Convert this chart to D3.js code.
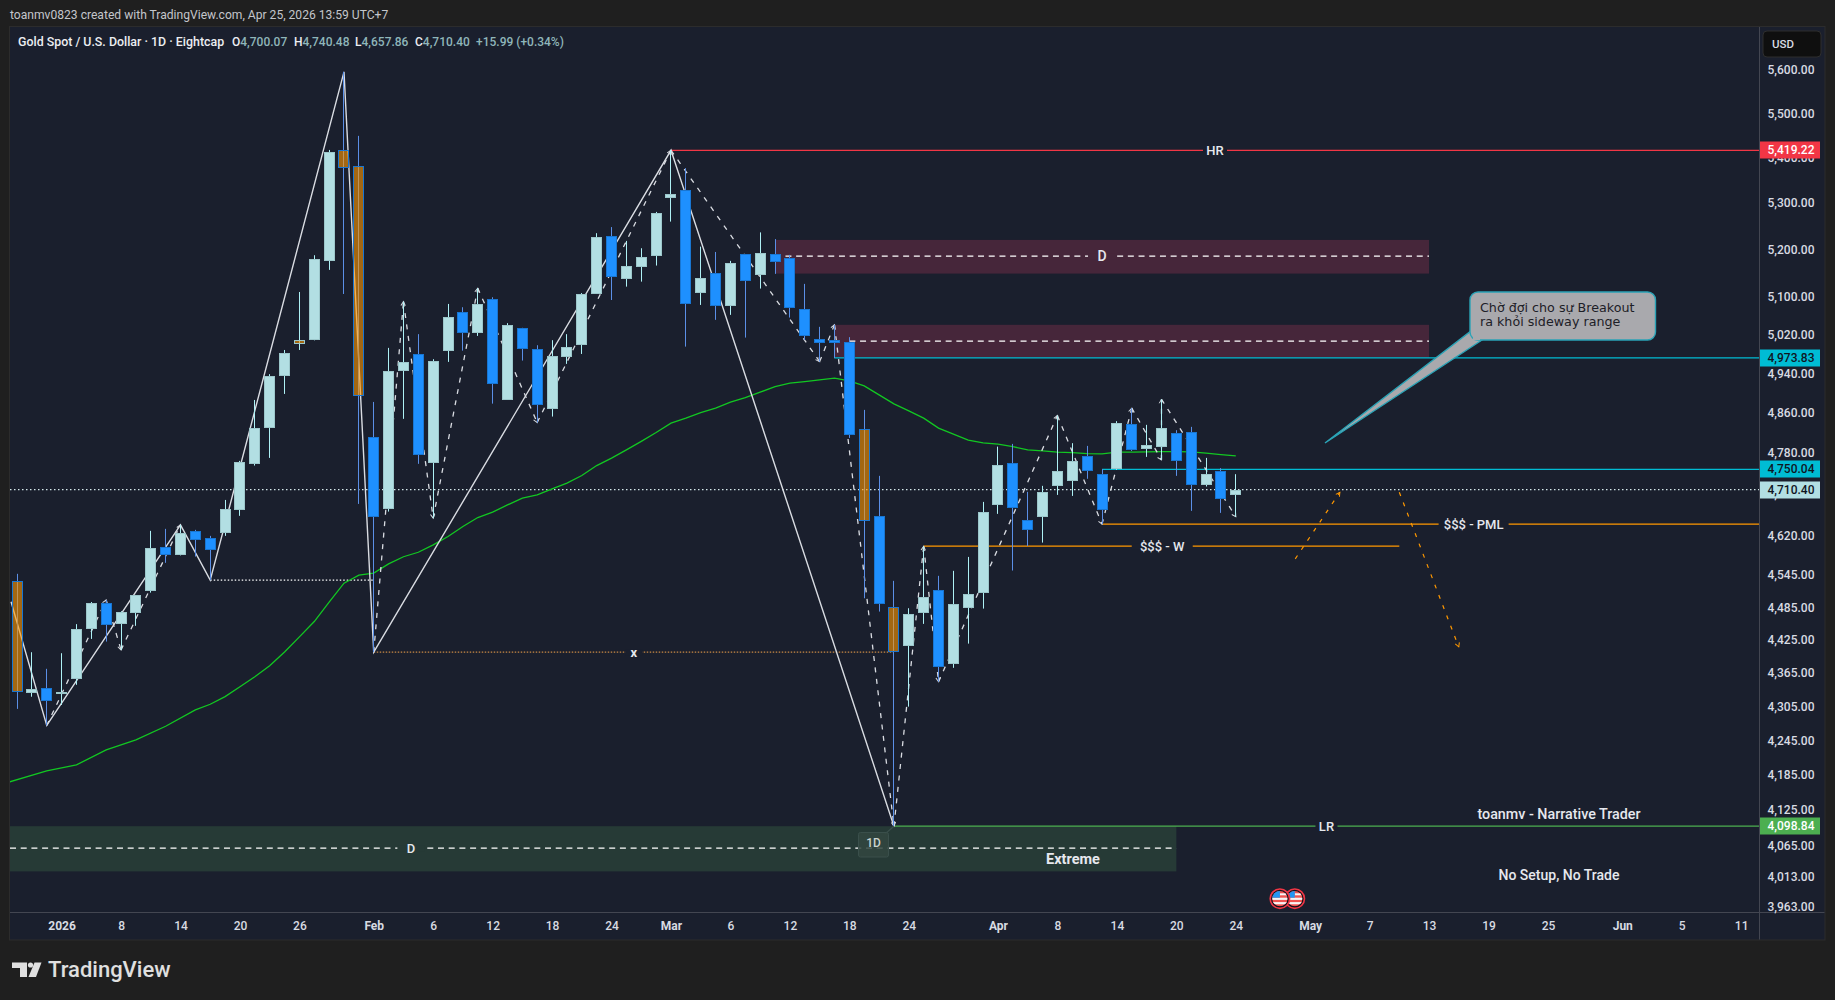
<!DOCTYPE html>
<html>
<head>
<meta charset="utf-8">
<title>Gold Spot / U.S. Dollar · 1D</title>
<script src="https://d3js.org/d3.v7.min.js"></script>
<style>
  html, body { margin: 0; padding: 0; background: #1f1f1f; }
  svg { display: block; }
  text { font-family: Roboto, "Liberation Sans", sans-serif; }
</style>
</head>
<body>
<svg id="chart" width="1835" height="1000"></svg>
<script>
// Daily bars, oldest first (index 0 = 29 Dec 2025, index 82 = 24 Apr 2026)
const opens = [4535.6,4331.5,4339.5,4331,4356.7,4447.6,4494.2,4456.8,4477,4517.9,4599.6,4585.6,4630.2,4616.8,4627.5,4671.1,4760.8,4832.7,4937.7,5010.3,5011.6,5177.8,5419.22,5383.8,4813.5,4673,4947.9,4981.3,4763.3,4988.7,5068.6,5026.2,5095.7,4888.7,5035.3,4991.6,4870.7,4976.4,5001.1,5107.6,5230.3,5139.5,5165,5188.5,5314.1,5330.5,5109.6,5151,5082.3,5191.4,5148,5191.4,5182.9,5074.9,5012.3,5010.3,5006.1,4829.5,4659,4487,4416.3,4477,4518.6,4383.7,4486.2,4514.1,4681.3,4762.1,4651.3,4658.2,4718.3,4726.2,4775.9,4740.6,4751,4839.5,4790.8,4794.8,4821.5,4823.5,4720.3,4746.5,4700.07];
const highs = [4549.3,4404.3,4374.2,4402.5,4455.7,4496.6,4500.4,4479.6,4509.8,4630.8,4634.6,4642.3,4632.7,4621.2,4690.3,4766.6,4888.1,4940.5,4990.1,5111.1,5189.3,5420,5597.7,5451.6,4884.1,4994.4,5090.7,5022.8,4971.1,5085.9,5079,5119.1,5100,5045.7,5036,4999.9,5010.3,5022.8,5108.8,5236.8,5250,5220.1,5204.3,5283,5419.22,5379.4,5207.8,5196.3,5177.2,5191.4,5238.5,5224,5190,5128.2,5038,5042.2,5016.6,4868.1,4737.2,4536.1,4485.1,4601.5,4545.5,4554.9,4581.2,4686.5,4794.8,4800.2,4706,4717.7,4856.7,4801.6,4796.2,4750.4,4845.5,4871.5,4838.1,4889.5,4827.5,4834.1,4772.5,4752.4,4740.48];
const lows = [4302.4,4324.1,4273,4309.4,4345.4,4428.6,4423.7,4408.4,4452.6,4514.1,4570,4584,4581.8,4537.4,4621.2,4659.6,4757.4,4772.5,4900.3,4990.1,5010,5158,5106.9,4682.6,4404.3,4667.8,4850.1,4760.8,4655.2,4965.6,4988.7,5019.2,4880.7,4888.1,4968.3,4842.7,4854.7,4961.5,4981.9,5106.9,5094.2,5122.4,5133,5167.2,5261.9,4997,5083.8,5052.6,5063,5015.7,5118.3,5149.5,5057.4,5010.9,4966.2,4973.2,4812,4503.6,4478.9,4098.84,4306.4,4456.2,4351,4376,4420,4484.4,4663.4,4555.5,4602,4608.4,4700.1,4698.1,4731.5,4643.6,4749,4786.2,4774.5,4768.6,4737.2,4669.2,4716.4,4665.3,4657.86];
const closes = [4332.3,4337.7,4317,4332.8,4446.4,4494.2,4455,4477.8,4509.3,4597.6,4585.6,4626.4,4614.1,4595,4672.4,4764.1,4831.5,4936.4,4983.4,5003.2,5180.8,5415.6,5379.4,4895.6,4658.2,4946.6,4965,4779,4967,5058.2,5024.9,5085.3,4921.4,5041.6,4991.6,4877.5,4977.2,4995.7,5106.7,5228.2,5143.7,5165.9,5185,5280.1,5322.3,5086.5,5140.3,5081.1,5172.3,5135.3,5193.5,5175.7,5078.2,5019.8,5005.3,5005.3,4818.8,4649.4,4493.6,4405.3,4474.1,4505.5,4378.3,4492.5,4511.1,4666.7,4758.2,4675.5,4633.3,4705.4,4746.5,4766.1,4747.6,4671.7,4841.5,4788.8,4797.6,4831.5,4767.2,4720.3,4740.6,4692.8,4710.4];
// Bars painted amber by the session-colouring rule
const amberBars = [0, 19, 22, 23, 57, 59];

// Moving average, one reading for each listed bar
const maBars = [-0.5,2,4,6,8,10,12,13,14,15,16,17,18,19,20,21,22,23,24,25,26,27,28,29,30,31,32,33,34,35,36,37,38,39,40,41,42,43,44,45,46,47,48,49,50,51,52,53,54,55,56,57,58,59,60,61,62,63,64,65,66,67,68,69,70,71,72,73,74,75,76,77,78,79,80,81,82];
const maValues = [4174.6,4193.7,4204,4230,4247.8,4271.6,4300.6,4310.6,4324.3,4341.8,4359.8,4379.6,4404.8,4432.3,4460.5,4496.6,4531.8,4546.8,4550.6,4568,4581.5,4590,4604,4619.9,4639,4656.3,4666.7,4680.7,4693.6,4700.1,4711.9,4723,4737.8,4757.4,4772,4788.2,4805.2,4822.8,4841.5,4851.5,4862.7,4871.5,4883.5,4892.8,4903.8,4915.2,4922.2,4925.4,4928.9,4932.4,4926.9,4916.7,4898.3,4880.1,4866.1,4851.5,4831.5,4819.5,4807.5,4802.2,4799.6,4794.8,4788.2,4786.2,4783.7,4782.9,4781,4780.4,4783.7,4783.7,4784.3,4784.9,4784.9,4784.3,4781.7,4779,4776.4];

// Swing structure: major legs drawn solid, minor legs dashed
const majorSwingBars = [-0.4,2,11,13,22,24,44,59];
const majorSwingPrices = [4497,4273,4642.3,4537.4,5597.7,4404.3,5419.22,4098.84];
const minorLegsFirst = [[2,"l"],[6,"h"],[7,"l"],[11,"h"]];
const minorLegsSecond = [[24,"l"],[26,"h"],[28,"l"],[31,"h"],[35,"l"],[44,"h"],[54,"l"],[55,"h"],[59,"l"],[61,"h"],[62,"l"],[70,"h"],[73,"l"],[75,"h"],[77,"l"],[77,"h"],[82,"l"]];

// Projected paths after the last bar
const projectionUp = { bars: [86, 89], prices: [4577.5, 4705.2] };
const projectionDown = { bars: [93, 97], prices: [4705.2, 4414] };

// Price axis
const priceTicks = [5600,5500,5400,5300,5200,5100,5020,4940,4860,4780,4700,4620,4545,4485,4425,4365,4305,4245,4185,4125,4065,4013,3963];
const priceBadges = [
  { value: 5419.22, fill: "#f23645", ink: "#ffffff" },
  { value: 4973.83, fill: "#00bcd4", ink: "#10151f" },
  { value: 4750.04, fill: "#00bcd4", ink: "#10151f" },
  { value: 4710.40, fill: "#b2dfe3", ink: "#10151f" },
  { value: 4098.84, fill: "#4caf50", ink: "#ffffff" }
];

// Time axis
const timeTickBars = [3,7,11,15,19,24,28,32,36,40,44,48,52,56,60,66,70,74,78,82,87,91,95,99,103,108,112,116];
const timeTickLabels = ["2026","8","14","20","26","Feb","6","12","18","24","Mar","6","12","18","24","Apr","8","14","20","24","May","7","13","19","25","Jun","5","11"];
const boldTimeLabels = ["2026","Feb","Mar","Apr","May","Jun"];

// Economic calendar events
const eventBars = [86, 85];

// Plot geometry
const plot = { left: 10, right: 1759, top: 27, bottom: 912.3 };
const frame = { left: 10, right: 1824.5, top: 27, bottom: 939.5 };
const firstBar = -0.471, lastBar = 117.2;
const colors = {
  page: "#1f1f1f", panel: "#1a1f2d", frameLine: "#2c2c2c", axisLine: "#434651", axisText: "#d8dbe2",
  up: "#b2dfe3", upEdge: "#9cc7cb", upWick: "#aef1f5",
  down: "#1e90ff", downEdge: "#1976d2", downWick: "#5b8fe6",
  amber: "#ff9800", ma: "#12c722", swing: "#d9dce2",
  red: "#f23645", cyan: "#00bcd4", orange: "#ff9800", green: "#4caf50",
  supply: "#46263a", demand: "#263a36"
};

const x = d3.scaleLinear().domain([firstBar, lastBar]).range([plot.left, plot.right]);
const y = d3.scaleLog().domain([5702.4, 3955.6]).range([plot.top, plot.bottom]);

const svg = d3.select("#chart");
const defs = svg.append("defs");
defs.append("clipPath").attr("id", "plotClip").append("rect")
  .attr("x", plot.left).attr("y", plot.top)
  .attr("width", plot.right - plot.left).attr("height", plot.bottom - plot.top);
const addChevron = (id, color) => defs.append("marker").attr("id", id)
  .attr("viewBox", "-7 -5 9 10").attr("refX", 0).attr("refY", 0)
  .attr("markerWidth", 9).attr("markerHeight", 10).attr("markerUnits", "userSpaceOnUse")
  .attr("orient", "auto")
  .append("path").attr("d", "M-4,-2.2L0,0L-4,2.2").attr("fill", "none")
  .attr("stroke", color).attr("stroke-width", 1);
addChevron("chevSwing", colors.swing);
addChevron("chevOrange", colors.orange);

// Panel and frame
svg.append("rect").attr("width", 1835).attr("height", 1000).attr("fill", colors.page);
svg.append("rect").attr("x", frame.left - 1).attr("y", frame.top - 1)
  .attr("width", frame.right - frame.left + 2).attr("height", frame.bottom - frame.top + 2)
  .attr("fill", colors.frameLine);
svg.append("rect").attr("x", frame.left).attr("y", frame.top)
  .attr("width", frame.right - frame.left).attr("height", frame.bottom - frame.top)
  .attr("fill", colors.panel);

const scene = svg.append("g").attr("clip-path", "url(#plotClip)");

// Supply and demand zones
const zones = [
  { from: 51, to: 95, top: 5222.2, bottom: 5150.1, fill: colors.supply },
  { from: 55, to: 95, top: 5042.2, bottom: 4973.83, fill: colors.supply },
  { from: firstBar, to: 78, top: 4098.84, bottom: 4023, fill: colors.demand }
];
scene.selectAll("rect.zone").data(zones).join("rect").attr("class", "zone")
  .attr("x", d => x(d.from)).attr("width", d => x(d.to) - x(d.from))
  .attr("y", d => y(d.top)).attr("height", d => y(d.bottom) - y(d.top))
  .attr("fill", d => d.fill);

// Horizontal levels
const levels = [
  { from: 51.7, to: 95, price: 5187.2, stroke: "#ffffff", width: 1.3, dash: "6 4.7" },
  { from: 56, to: 95, price: 5008.5, stroke: "#ffffff", width: 1.3, dash: "6 4.7" },
  { from: firstBar, to: 78, price: 4061.9, stroke: "#ffffff", width: 1.3, dash: "6 4.7" },
  { from: 44, to: lastBar, price: 5419.22, stroke: colors.red, width: 1.3 },
  { from: 55, to: lastBar, price: 4973.83, stroke: colors.cyan, width: 1.3 },
  { from: 73, to: lastBar, price: 4750.04, stroke: colors.cyan, width: 1.3 },
  { from: firstBar, to: lastBar, price: 4710.40, stroke: "#d4e8ea", width: 1.3, dash: "1.5 2.5" },
  { from: 73, to: lastBar, price: lows[73], stroke: colors.orange, width: 1.3 },
  { from: 61, to: 93, price: highs[61], stroke: colors.orange, width: 1.3 },
  { from: 59, to: lastBar, price: 4098.84, stroke: colors.green, width: 1.3 },
  { from: 13, to: 24, price: lows[13], stroke: "#ffffff", width: 1.4, dash: "1.5 2" },
  { from: 24, to: 59, price: lows[24], stroke: "#c98a45", width: 1.2, dash: "1.5 1.5" }
];
scene.selectAll("line.level").data(levels).join("line").attr("class", "level")
  .attr("x1", d => x(d.from)).attr("x2", d => x(d.to))
  .attr("y1", d => y(d.price)).attr("y2", d => y(d.price))
  .attr("stroke", d => d.stroke).attr("stroke-width", d => d.width)
  .attr("stroke-dasharray", d => d.dash || null);

// Moving average
const maLine = d3.line().x(d => x(d[0])).y(d => y(d[1]));
scene.append("path").datum(maBars.map((b, i) => [b, maValues[i]])).attr("d", maLine)
  .attr("fill", "none").attr("stroke", colors.ma).attr("stroke-width", 1.3);

// Swing legs
scene.append("path").datum(majorSwingBars.map((b, i) => [b, majorSwingPrices[i]])).attr("d", maLine)
  .attr("fill", "none").attr("stroke", colors.swing).attr("stroke-width", 1.4);
const legPoint = ([bar, side]) => [bar, side === "h" ? highs[bar] : lows[bar]];
const minorSegments = [minorLegsFirst, minorLegsSecond].flatMap(legs =>
  d3.pairs(legs.map(legPoint)));
scene.selectAll("path.minor").data(minorSegments).join("path").attr("class", "minor")
  .attr("d", maLine).attr("fill", "none").attr("stroke", colors.swing).attr("stroke-width", 1.3)
  .attr("stroke-dasharray", "5 6.5").attr("marker-end", "url(#chevSwing)");

// Projections
[projectionUp, projectionDown].forEach(p => {
  scene.append("path").datum(p.bars.map((b, i) => [b, p.prices[i]])).attr("d", maLine)
    .attr("fill", "none").attr("stroke", colors.orange).attr("stroke-width", 1.2)
    .attr("stroke-dasharray", "4 7").attr("marker-end", "url(#chevOrange)");
});

// Candles
const bars = closes.map((c, i) => {
  const amber = amberBars.includes(i), rising = c >= opens[i];
  const wickUp = i === 19 || (rising && !amber);
  return {
    i, amber,
    col: Math.floor(x(i)),
    bodyTop: Math.round(y(Math.max(opens[i], c))),
    bodyBottom: Math.round(y(Math.min(opens[i], c))),
    high: y(highs[i]), low: y(lows[i]),
    wick: wickUp ? colors.upWick : colors.downWick,
    fill: amber ? colors.amber : (rising ? colors.up : colors.down),
    edge: i === 19 ? colors.upEdge : (amber ? colors.downEdge : (rising ? colors.upEdge : colors.downEdge))
  };
});
const candles = scene.selectAll("g.candle").data(bars).join("g").attr("class", "candle");
candles.append("rect").attr("x", d => d.col).attr("width", 1)
  .attr("y", d => d.high).attr("height", d => d.low - d.high).attr("fill", d => d.wick);
candles.append("rect").attr("x", d => d.col - 4.5).attr("width", 10)
  .attr("y", d => d.bodyTop + 0.5)
  .attr("height", d => Math.max(d.bodyBottom - d.bodyTop - 1, 1))
  .attr("fill", d => d.fill).attr("fill-opacity", d => d.amber ? 0.6 : 1)
  .attr("stroke", d => d.edge).attr("stroke-width", 1);

// Labels that interrupt their level, sitting on a patch of the backdrop colour
const levelLabels = [
  { text: "HR", bar: 80.6, price: 5419.22, gap: 24, back: colors.panel },
  { text: "D", bar: 73, price: 5187.2, gap: 28, back: colors.supply, size: 14 },
  { text: "D", bar: 26.5, price: 4061.9, gap: 27, back: colors.demand, size: 13 },
  { text: "$$$ - W", bar: 77.05, price: highs[61], gap: 61, back: colors.panel },
  { text: "$$$ - PML", bar: 98, price: lows[73], gap: 70, back: colors.panel },
  { text: "LR", bar: 88.1, price: 4098.84, gap: 22, back: colors.panel },
  { text: "x", bar: 41.5, price: lows[24], gap: 17, back: colors.panel, weight: 700 }
];
const labelLayer = svg.append("g");
labelLayer.selectAll("rect").data(levelLabels).join("rect")
  .attr("x", d => x(d.bar) - d.gap / 2).attr("width", d => d.gap)
  .attr("y", d => y(d.price) - 3).attr("height", 6).attr("fill", d => d.back);
labelLayer.selectAll("text").data(levelLabels).join("text")
  .attr("x", d => x(d.bar)).attr("y", d => y(d.price))
  .attr("dy", "0.34em").attr("text-anchor", "middle")
  .attr("font-size", d => d.size || 13).attr("font-weight", d => d.weight || 500)
  .attr("fill", "#e6e8ee").text(d => d.text);

// Free-standing notes
const notes = [
  { text: "Extreme", x: 1073, y: 859.5, weight: 700, size: 14.5 },
  { text: "toanmv - Narrative Trader", x: 1559, y: 814, weight: 500, size: 14.3 },
  { text: "No Setup, No Trade", x: 1559, y: 875, weight: 500, size: 14 }
];
svg.selectAll("text.note").data(notes).join("text").attr("class", "note")
  .attr("x", d => d.x).attr("y", d => d.y).attr("dy", "0.34em").attr("text-anchor", "middle")
  .attr("font-size", d => d.size).attr("font-weight", d => d.weight).attr("fill", "#e6e8ee")
  .text(d => d.text);

// Timeframe badge tied to the swing low
const badge = svg.append("g");
badge.append("line").attr("x1", 885).attr("y1", 834).attr("x2", x(59)).attr("y2", y(4098.84))
  .attr("stroke", "#3a4f4b").attr("stroke-width", 1.2);
badge.append("rect").attr("x", 858.5).attr("y", 832.5).attr("width", 30).attr("height", 24.5).attr("rx", 2)
  .attr("fill", "#33473f").attr("fill-opacity", 0.85).attr("stroke", "#3a4f4b");
badge.append("text").attr("x", 873.5).attr("y", 843).attr("dy", "0.34em").attr("text-anchor", "middle")
  .attr("font-size", 12).attr("font-weight", 500).attr("fill", "#c9d3cf").text("1D");

// Callout with its pointer
const callout = svg.append("g");
const tip = [x(88), y(4802)];
callout.append("path").attr("d", `M${tip[0]},${tip[1]}L1471,331L1482,340Z`)
  .attr("fill", "#a9a9ad").attr("stroke", "#2aa3b6").attr("stroke-width", 1.4);
callout.append("rect").attr("x", 1470).attr("y", 292).attr("width", 185.5).attr("height", 48).attr("rx", 8)
  .attr("fill", "#a9a9ad").attr("stroke", "#2aa3b6").attr("stroke-width", 1.4);
callout.append("path").attr("d", "M1473,338L1480,338").attr("stroke", "#a9a9ad").attr("stroke-width", 4);
[["Chờ đợi cho sự Breakout", 308], ["ra khỏi sideway range", 322]].forEach(([line, ly]) => {
  callout.append("text").attr("x", 1480).attr("y", ly).attr("dy", "0.34em")
    .style("font-family", "'DejaVu Sans', sans-serif").attr("font-size", 12.7)
    .attr("fill", "#1d2027").text(line);
});

// Economic calendar flags
const flags = svg.selectAll("g.flag").data(eventBars).join("g").attr("class", "flag")
  .attr("transform", d => `translate(${x(d) - 0.5},898.7)`);
flags.append("circle").attr("r", 9.7).attr("fill", "#10131c").attr("stroke", colors.red).attr("stroke-width", 1.6);
flags.each(function (d) {
  const g = d3.select(this), cid = `flagClip${d}`;
  defs.append("clipPath").attr("id", cid).append("circle").attr("r", 7.6);
  const inner = g.append("g").attr("clip-path", `url(#${cid})`);
  inner.append("rect").attr("x", -8).attr("y", -8).attr("width", 16).attr("height", 16).attr("fill", "#ef5350");
  inner.append("rect").attr("x", -8).attr("y", -1).attr("width", 16).attr("height", 2.2).attr("fill", "#f5f5f5");
  inner.append("rect").attr("x", -8).attr("y", 3.4).attr("width", 16).attr("height", 2.2).attr("fill", "#f5f5f5");
  inner.append("rect").attr("x", 0).attr("y", -5.4).attr("width", 8).attr("height", 2).attr("fill", "#f5f5f5");
  inner.append("rect").attr("x", -8).attr("y", -8).attr("width", 8).attr("height", 7).attr("fill", "#2196f3");
});

// Axes
svg.append("line").attr("x1", frame.left).attr("x2", frame.right).attr("y1", 912.5).attr("y2", 912.5)
  .attr("stroke", colors.axisLine);
svg.append("line").attr("x1", 1759.5).attr("x2", 1759.5).attr("y1", frame.top).attr("y2", frame.bottom)
  .attr("stroke", colors.axisLine);

const priceAxis = svg.append("g").attr("transform", "translate(1759,0)")
  .call(d3.axisRight(y).tickValues(priceTicks).tickFormat(d3.format(",.2f")).tickSize(0));
priceAxis.select(".domain").remove();
priceAxis.selectAll("text").attr("x", 32).attr("text-anchor", "middle")
  .attr("font-size", 12).attr("font-weight", 500).attr("font-family", null)
  .attr("fill", colors.axisText).attr("y", -1);

const timeAxis = svg.append("g").attr("transform", "translate(0,912.5)")
  .call(d3.axisBottom(x).tickValues(timeTickBars)
    .tickFormat(b => timeTickLabels[timeTickBars.indexOf(b)]).tickSize(0));
timeAxis.select(".domain").remove();
timeAxis.selectAll("text").attr("y", 13.5).attr("dy", "0.34em")
  .attr("font-size", 12).attr("font-family", null).attr("fill", colors.axisText)
  .attr("font-weight", b => boldTimeLabels.includes(timeTickLabels[timeTickBars.indexOf(b)]) ? 700 : 500);

// Price badges
const badges = svg.selectAll("g.badge").data(priceBadges).join("g").attr("class", "badge")
  .attr("transform", d => `translate(1760,${Math.round(y(d.value))})`);
badges.append("rect").attr("y", -8.5).attr("width", 60).attr("height", 17).attr("fill", d => d.fill);
badges.append("text").attr("x", 31).attr("dy", "0.34em").attr("text-anchor", "middle")
  .attr("font-size", 12).attr("font-weight", 500).attr("fill", d => d.ink)
  .text(d => d3.format(",.2f")(d.value));

// Currency button
svg.append("rect").attr("x", 1763).attr("y", 31).attr("width", 58).attr("height", 26).attr("rx", 4)
  .attr("fill", "#0f0f0f").attr("stroke", "#2e2e2e");
svg.append("text").attr("x", 1772).attr("y", 44.5).attr("dy", "0.34em").attr("font-size", 11.5)
  .attr("font-weight", 500).attr("fill", "#d8dbe2").text("USD");

// Header and legend
svg.append("text").attr("x", 10).attr("y", 14.7).attr("dy", "0.34em").attr("font-size", 12.1)
  .attr("fill", "#c4c6cb").text("toanmv0823 created with TradingView.com, Apr 25, 2026 13:59 UTC+7");
svg.append("text").attr("x", 18).attr("y", 41.7).attr("dy", "0.34em").attr("font-size", 12.4)
  .attr("font-weight", 500).attr("fill", "#eceef2").text("Gold Spot / U.S. Dollar · 1D · Eightcap");
const ohlcLabels = ["O", "H", "L", "C"], ohlcX = [232, 294, 355, 415];
const ohlcValues = [opens[82], highs[82], lows[82], closes[82]];
ohlcLabels.forEach((k, i) => {
  const t = svg.append("text").attr("x", ohlcX[i]).attr("y", 41.7).attr("dy", "0.34em")
    .attr("font-size", 12).attr("font-weight", 500);
  t.append("tspan").attr("fill", "#eceef2").text(k);
  t.append("tspan").attr("fill", "#8fb6ba").text(d3.format(",.2f")(ohlcValues[i]));
});
svg.append("text").attr("x", 476).attr("y", 41.7).attr("dy", "0.34em").attr("font-size", 12)
  .attr("font-weight", 500).attr("fill", "#8fb6ba").text("+15.99 (+0.34%)");

// Brand mark
const brand = svg.append("g").attr("fill", "#e0e0e0");
brand.append("path").attr("d", "M12,962.5H27V977H20V968H12Z");
brand.append("circle").attr("cx", 30.5).attr("cy", 965).attr("r", 2.6);
brand.append("path").attr("d", "M34.5,962.5H41.5L36,977H28.5Z");
brand.append("text").attr("x", 48).attr("y", 970).attr("dy", "0.34em").attr("font-size", 22)
  .attr("font-weight", 500).text("TradingView");
</script>
</body>
</html>
